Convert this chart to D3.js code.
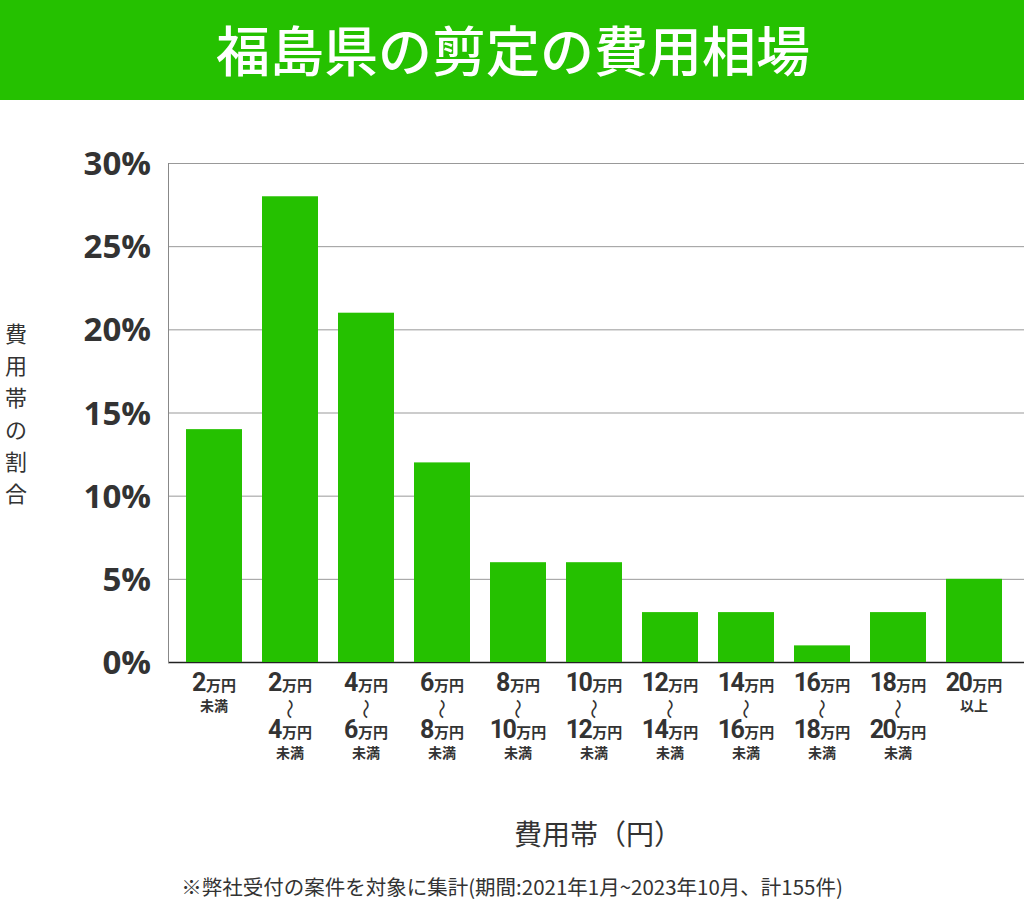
<!DOCTYPE html>
<html><head><meta charset="utf-8">
<script src="https://cdn.jsdelivr.net/npm/d3@7"></script>
<style>body{margin:0;background:#fff;}svg{display:block;font-family:"Noto Sans CJK JP","Noto Sans",sans-serif;}</style>
</head><body>
<svg id="c" width="1024" height="907"></svg>
<script>
const title = "福島県の剪定の費用相場";
const categories = ["2万円未満","2〜4万円未満","4〜6万円未満","6〜8万円未満","8〜10万円未満","10〜12万円未満","12〜14万円未満","14〜16万円未満","16〜18万円未満","18〜20万円未満","20万円以上"];
const labelFrom = ["2","2","4","6","8","10","12","14","16","18","20"];
const labelTo = [null,"4","6","8","10","12","14","16","18","20",null];
const labelSuffix = ["未満",null,null,null,null,null,null,null,null,null,"以上"];
const values = [14,28,21,12,6,6,3,3,1,3,5];
const yTicks = [0,5,10,15,20,25,30];
const yTitle = ["費","用","帯","の","割","合"];
const xTitle = "費用帯（円）";
const footnote = "※弊社受付の案件を対象に集計(期間:2021年1月~2023年10月、計155件)";

const svg = d3.select("#c");
const green = "#25c100";
const ink = "#333";
svg.append("rect").attr("x",0).attr("y",0).attr("width",1024).attr("height",100).attr("fill",green);
svg.append("text").attr("x",513).attr("y",72).attr("text-anchor","middle").attr("fill","#fff")
  .attr("font-size",54).attr("font-weight",500).text(title);

const x = d3.scaleBand().domain(categories).range([176,1012]).paddingInner(20/76).paddingOuter(10/76);
const y = d3.scaleLinear().domain([0,30]).range([662,163]);

// grid
const g = svg.append("g");
g.selectAll("line.grid").data(yTicks).join("line").attr("class","grid")
  .attr("x1",168).attr("x2",1024).attr("y1",d=>y(d)+0.5).attr("y2",d=>y(d)+0.5)
  .attr("stroke",d=>d===0?"#222":"#999").attr("stroke-width",d=>d===0?1.5:1);
g.append("line").attr("x1",168.5).attr("x2",168.5).attr("y1",y(30)).attr("y2",y(0)+1).attr("stroke","#888");

// bars
svg.selectAll("rect.bar").data(values).join("rect").attr("class","bar")
  .attr("x",(d,i)=>x(categories[i])).attr("width",x.bandwidth())
  .attr("y",d=>y(d)).attr("height",d=>y(0)-y(d)).attr("fill",green);

// y labels
svg.selectAll("text.yl").data(yTicks).join("text").attr("class","yl")
  .attr("x",151).attr("y",d=>y(d)+12).attr("text-anchor","end").attr("fill",ink)
  .attr("font-size",33).attr("font-weight",700).attr("font-family","'Open Sans',sans-serif")
  .text(d=>d+"%");

// y title
svg.selectAll("text.yt").data(yTitle).join("text").attr("class","yt")
  .attr("x",16).attr("y",(d,i)=>342+i*32).attr("text-anchor","middle").attr("fill",ink)
  .attr("font-size",22).text(d=>d);

// x labels
const xl = svg.selectAll("g.xl").data(categories).join("g").attr("class","xl")
  .attr("transform",(d,i)=>`translate(${x(d)+x.bandwidth()/2},0)`);
function amount(sel, num, yy){
  const t = sel.append("text").attr("y",yy).attr("text-anchor","middle").attr("fill",ink).attr("font-weight",700);
  t.append("tspan").attr("font-size",25).attr("letter-spacing",-1.5).attr("font-family","Roboto,sans-serif").text(num);
  t.append("tspan").attr("font-size",15).attr("dx",1).text("万円");
}
xl.each(function(d,i){
  const s = d3.select(this);
  amount(s, labelFrom[i], 691);
  if(labelTo[i]){
    s.append("text").attr("transform","translate(0,709) rotate(90)").attr("text-anchor","middle")
      .attr("dominant-baseline","central").attr("fill",ink).attr("font-size",20).attr("font-weight",400).text("〜");
    amount(s, labelTo[i], 738);
    s.append("text").attr("y",758).attr("text-anchor","middle").attr("fill",ink).attr("font-size",14).attr("font-weight",700).text("未満");
  } else {
    s.append("text").attr("y",711).attr("text-anchor","middle").attr("fill",ink).attr("font-size",14).attr("font-weight",700).text(labelSuffix[i]);
  }
});

svg.append("text").attr("x",598).attr("y",845).attr("text-anchor","middle").attr("fill",ink).attr("font-size",28).text(xTitle);
svg.append("text").attr("x",512).attr("y",895).attr("text-anchor","middle").attr("fill",ink).attr("font-size",20.5).text(footnote);
</script>
</body></html>
